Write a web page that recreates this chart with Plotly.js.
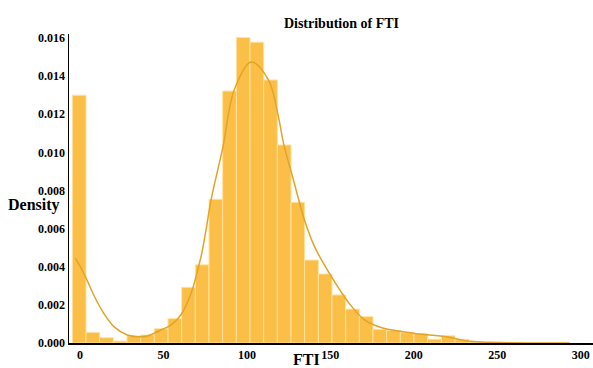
<!DOCTYPE html>
<html>
<head>
<meta charset="utf-8">
<script src="https://cdn.plot.ly/plotly-3.0.1.min.js"></script>
<style>html,body{margin:0;padding:0;background:#fff;}#chart{width:593px;height:368px;}</style>
</head>
<body>
<div id="chart"></div>
<script>
// Histogram bins (FTI): first edge and width
var binStart = 2;
var binWidth = 8.19;
// Density per bin
var density = [0.0130, 0.00056, 0.00028, 0.00010, 0.00037, 0.00042, 0.00075, 0.00128,
  0.00292, 0.00410, 0.00754, 0.01322, 0.01602, 0.01578, 0.01380, 0.01039,
  0.00738, 0.00435, 0.00362, 0.00252, 0.00178, 0.00138, 0.00072, 0.00066,
  0.00054, 0.00049, 0.00020, 0.00038, 0.00020, 0.00006, 0.00005, 0.00004, 0.00003];
// KDE curve
var kdeX = [3.8, 6.8, 10.8, 14.8, 20.8, 26.9, 34.9, 41.0, 47.0, 55.0, 61.0, 67.0, 73.1, 79.1, 82.1,
  85.1, 92.3, 99.0, 109.2, 119.5, 125.5, 128.5, 134.5, 141.1, 147.2, 157.4, 167.7, 177.3, 187.5,
  207.4, 227.9, 237.5, 258.0, 280, 300];
var kdeY = [0.00444, 0.0040, 0.0033, 0.00252, 0.00156, 0.00086, 0.00042, 0.00033, 0.00037,
  0.00068, 0.00094, 0.00147, 0.0026, 0.00453, 0.00593, 0.0075, 0.0103, 0.01327, 0.01474, 0.0138,
  0.01186, 0.0105, 0.00855, 0.00645, 0.00504, 0.00346, 0.0021, 0.0012, 0.0008, 0.0005, 0.0003,
  0.00012, 0.00002, 0.0, 0.0];
var xTicks = [0, 50, 100, 150, 200, 250, 300];
var yTicks = [0, 0.002, 0.004, 0.006, 0.008, 0.010, 0.012, 0.014, 0.016];

var centers = density.map(function(_, i){ return binStart + binWidth * (i + 0.5); });

var serif = 'Liberation Serif, Times New Roman, serif';
var data = [
  {type: 'bar', x: centers, y: density, width: binWidth,
   marker: {color: 'rgb(251,190,70)', line: {color: 'rgba(255,228,160,0.95)', width: 1}},
   hoverinfo: 'skip'},
  {type: 'scatter', mode: 'lines', x: kdeX, y: kdeY, line: {color: 'rgb(226,164,40)', width: 1.5, shape: 'spline'}}
];
var layout = {
  width: 593, height: 368,
  margin: {l: 69, r: 0, t: 34, b: 25},
  paper_bgcolor: '#ffffff', plot_bgcolor: '#ffffff',
  showlegend: false, bargap: 0,
  title: {text: '<b>Distribution of FTI</b>', font: {family: serif, size: 14, color: '#000'},
          x: 0.520, xref: 'paper', y: 0.9375, yref: 'container', xanchor: 'center', yanchor: 'middle'},
  xaxis: {range: [0, 314], tickvals: xTicks, ticktext: xTicks.map(function(v){return '<b>'+v+'</b>';}),
          showgrid: false, zeroline: false, showline: true, linecolor: '#000', linewidth: 1.5,
          ticks: '', tickfont: {family: serif, size: 12, color: '#000'}, ticklabelshift: 11},
  yaxis: {range: [0, 0.01621], tickvals: yTicks,
          ticktext: yTicks.map(function(v){return '<b>'+v.toFixed(3)+'</b>';}),
          showgrid: false, zeroline: false, showline: true, linecolor: '#000', linewidth: 1.5,
          ticks: '', tickfont: {family: serif, size: 12, color: '#000'}},
  annotations: [
    {text: '<b>Density</b>', xref: 'paper', yref: 'paper', x: -0.066, y: 0.447, showarrow: false,
     xanchor: 'center', yanchor: 'middle', font: {family: serif, size: 16, color: '#000'}},
    {text: '<b>FTI</b>', xref: 'paper', yref: 'paper', x: 0.453, y: -0.052, showarrow: false,
     xanchor: 'center', yanchor: 'middle', font: {family: serif, size: 16, color: '#000'}}
  ]
};
Plotly.newPlot('chart', data, layout, {displayModeBar: false, staticPlot: true});
</script>
</body>
</html>
